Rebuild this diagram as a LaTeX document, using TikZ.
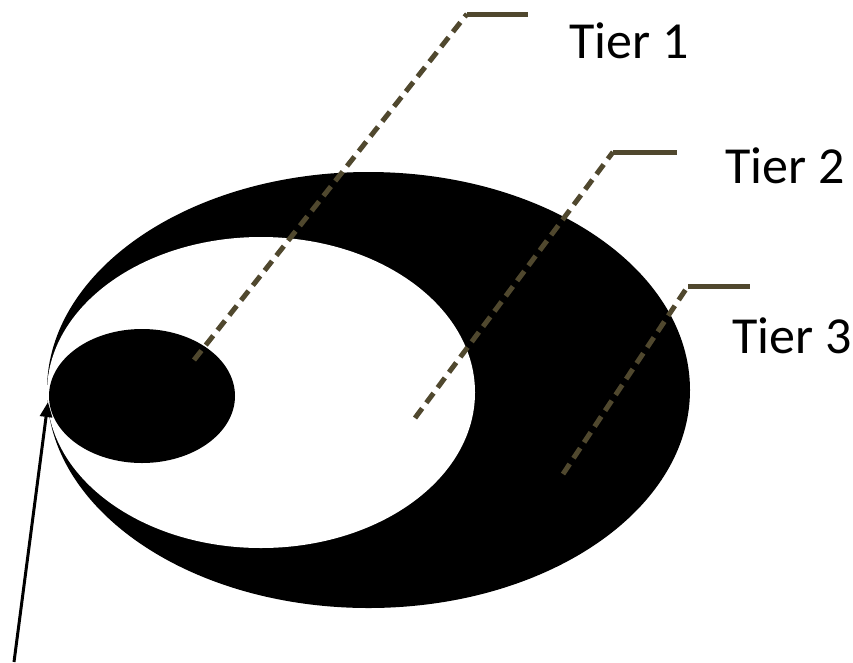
\documentclass[tikz,border=0pt]{standalone}
\usepackage{fontspec}
\setmainfont{Carlito}
\usetikzlibrary{shapes.geometric,arrows.meta}
\definecolor{olive}{RGB}{80,72,46}
\tikzset{
  blob/.style={ellipse, fill=black, inner sep=0pt, outer sep=0pt},
  hole/.style={ellipse, fill=white, inner sep=0pt, outer sep=0pt},
  leader/.style={olive, line width=5pt, dash pattern=on 12pt off 7pt},
  shelf/.style={olive, line width=5pt},
  tier/.style={font=\fontsize{52}{60}\selectfont, anchor=base west, inner sep=0pt},
  pointer/.style={line width=3pt, -{Triangle[length=15pt,width=12pt]}}
}
\begin{document}
\begin{tikzpicture}[x=1pt,y=-1pt]
\useasboundingbox (0,0) rectangle (853,662);
\node[blob, minimum width=643pt, minimum height=436pt] (outer) at (368.5,390) {};
\node[hole, minimum width=428pt, minimum height=311pt] (middle) at (261,392.5) {};
\node[blob, minimum width=186pt, minimum height=134pt] (inner) at (142,396) {};
% leader lines
\coordinate (a1) at (194,360);
\coordinate (b1) at (467,14);
\coordinate (c1) at (528,14);
\coordinate (a2) at (415,418);
\coordinate (b2) at (613,152);
\coordinate (c2) at (677,152);
\coordinate (a3) at (563,474);
\coordinate (b3) at (688,286);
\coordinate (c3) at (750,286);
\draw[leader] (a1) -- (b1);
\draw[shelf] (b1) -- (c1);
\draw[leader] (a2) -- (b2);
\draw[shelf] (b2) -- (c2);
\draw[leader] (a3) -- (b3);
\draw[shelf] (b3) -- (c3);
\node[tier] (t1) at (569,58) {Tier 1};
\node[tier] (t2) at (725,183) {Tier 2};
\node[tier] (t3) at (732,353) {Tier 3};
% pointer
\coordinate (tail) at (14,662);
\coordinate (tip) at (48,402);
\draw[pointer] (tail) -- (tip);
\end{tikzpicture}
\end{document}
